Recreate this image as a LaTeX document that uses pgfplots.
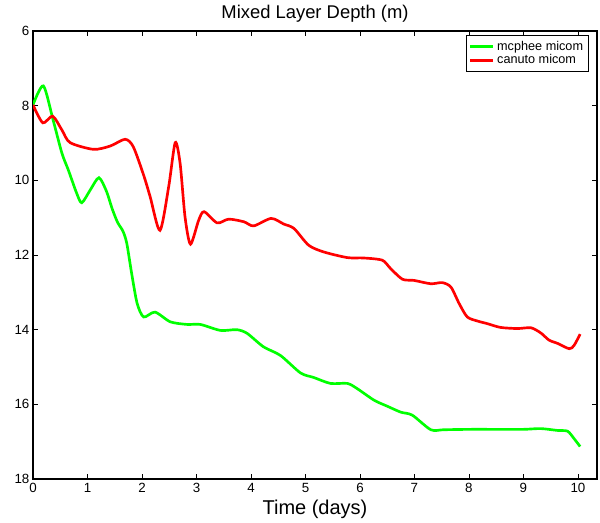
\documentclass[border=0pt]{standalone}
\usepackage{pgfplots}
\pgfplotsset{compat=1.18}
\usepackage{fontspec}
\setmainfont{Liberation Sans}
\definecolor{mgreen}{RGB}{0,255,0}
\definecolor{mred}{RGB}{255,0,0}
\begin{document}
\begin{tikzpicture}
\begin{axis}[
  scale only axis,
  width=423pt, height=336pt,
  xmin=0, xmax=10.35, ymin=6, ymax=18,
  y dir=reverse,
  xtick={0,1,...,10}, ytick={6,8,...,18},
  tick align=inside, tick pos=both,
  major tick length=3.5pt,
  axis line style={line width=0.8pt},
  every tick/.style={black, line width=0.6pt},
  /pgf/number format/assume math mode=true,
  tick label style={font=\fontsize{10}{11}\selectfont},
  xticklabel style={inner sep=3pt},
  yticklabel style={inner sep=2.5pt},
  title={Mixed Layer Depth (m)},
  title style={at={(axis description cs:0.5,1)}, anchor=base, yshift=3pt,
    font=\fontsize{13.8}{15}\selectfont},
  xlabel={Time (days)},
  xlabel style={at={(axis description cs:0.5,0)}, anchor=base, yshift=-27pt,
    font=\fontsize{15}{17}\selectfont},
  legend style={at={(rel axis cs:0.985,0.99)}, anchor=north east,
    font=\fontsize{9.5}{11}\selectfont, draw=black, line width=0.6pt,
    inner sep=1.8pt, row sep=-2pt},
  legend cell align=left,
  every axis plot/.append style={line width=2pt, smooth, tension=0.45},
]
\addplot[mgreen] coordinates {
(0,7.98) (0.19,7.47) (0.37,8.39) (0.53,9.27) (0.65,9.73) (0.80,10.34) (0.895,10.60)
(1.05,10.26) (1.21,9.93) (1.35,10.30) (1.45,10.75) (1.55,11.12) (1.65,11.36) (1.72,11.68)
(1.81,12.49) (1.91,13.29) (2.03,13.66) (2.24,13.53) (2.52,13.79) (2.83,13.86) (3.07,13.86)
(3.44,14.02) (3.74,14.0) (3.93,14.1) (4.23,14.46) (4.54,14.69) (4.91,15.16) (5.15,15.28)
(5.46,15.44) (5.77,15.44) (5.95,15.58) (6.26,15.89) (6.50,16.05) (6.75,16.21) (6.96,16.29)
(7.30,16.68) (7.54,16.68) (8.0,16.67) (8.5,16.67) (9.0,16.67) (9.32,16.65) (9.63,16.70)
(9.81,16.72) (9.93,16.92) (10.04,17.13)
};
\addlegendentry{mcphee micom}
\addplot[mred] coordinates {
(0,7.98) (0.18,8.46) (0.36,8.28) (0.53,8.65) (0.68,8.99) (1.11,9.17) (1.42,9.08)
(1.69,8.90) (1.84,9.10) (2.03,9.86) (2.15,10.44) (2.33,11.34) (2.49,10.17) (2.61,8.99)
(2.70,9.55) (2.79,10.98) (2.89,11.71) (3.04,11.07) (3.14,10.84) (3.38,11.14) (3.59,11.04)
(3.87,11.11) (4.05,11.22) (4.37,11.02) (4.60,11.17) (4.79,11.29) (5.06,11.74) (5.34,11.92)
(5.77,12.07) (6.07,12.08) (6.41,12.14) (6.56,12.36) (6.78,12.65) (6.99,12.68) (7.30,12.77)
(7.51,12.74) (7.67,12.86) (7.82,13.30) (7.97,13.66) (8.16,13.77) (8.34,13.84) (8.58,13.94)
(8.89,13.97) (9.14,13.95) (9.32,14.09) (9.47,14.28) (9.63,14.37) (9.84,14.51) (9.93,14.42)
(10.04,14.12)
};
\addlegendentry{canuto micom}
\end{axis}
\path (current axis.south west) ++(-24.75pt,-33pt) coordinate (bbA);
\path (current axis.north east) ++(2.25pt,23.25pt) coordinate (bbB);
\pgfresetboundingbox
\path (bbA) rectangle (bbB);
\end{tikzpicture}
\end{document}
